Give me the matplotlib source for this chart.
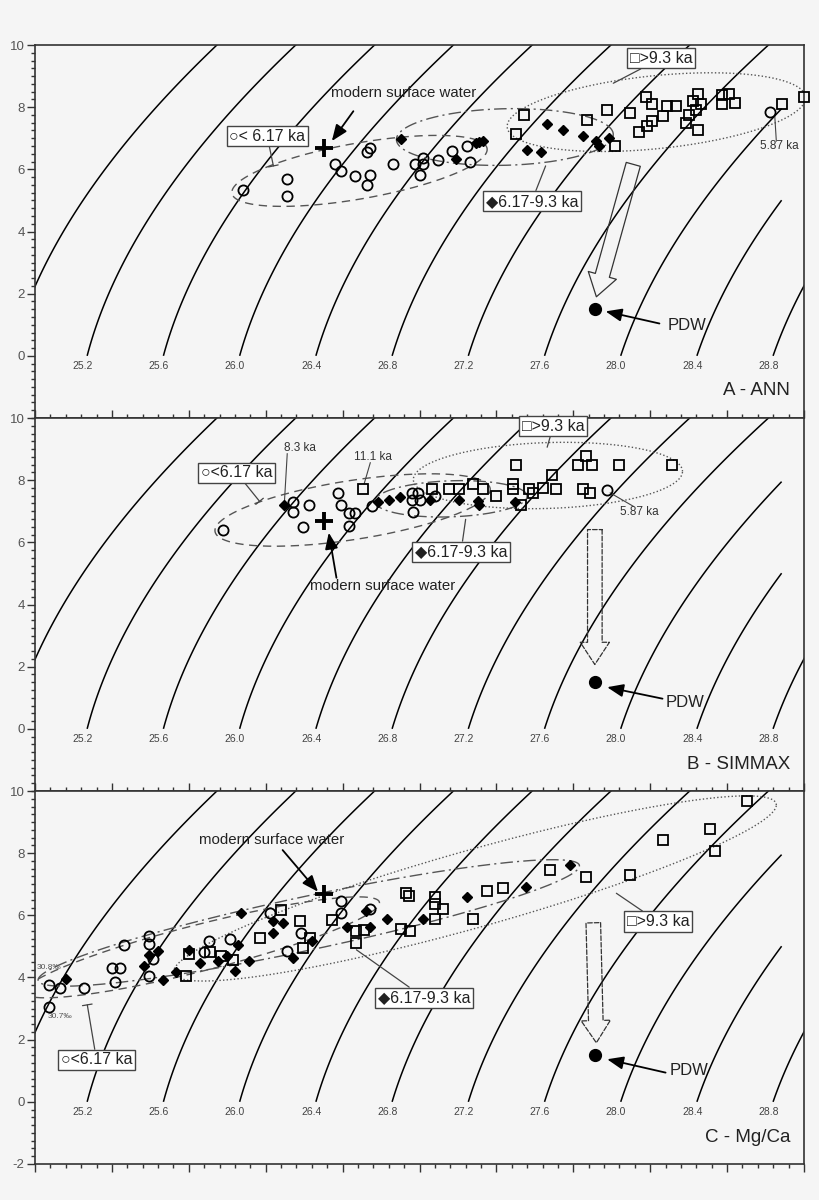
import numpy as np
import matplotlib
matplotlib.use("Agg")
import matplotlib.pyplot as plt
from matplotlib.ticker import FixedLocator, MultipleLocator

plt.rcParams['font.family'] = ['Liberation Sans', 'DejaVu Sans']
plt.rcParams['axes.unicode_minus'] = False

# ---------------- axes ranges ----------------
S_MIN, S_MAX = 31.06, 36.06
T_MIN, T_MAX = -2.0, 10.0

density_levels = [24.8, 25.2, 25.6, 26.0, 26.4, 26.8, 27.2, 27.6, 28.0, 28.4, 28.8]
label_levels = [25.2, 25.6, 26.0, 26.4, 26.8, 27.2, 27.6, 28.0, 28.4, 28.8]

# common reference points (salinity, temperature)
modern_surface = (32.94, 6.70)
pdw = (34.70, 1.52)

# ---------------- Panel A - ANN ----------------
ann_young = [(32.41, 5.33), (32.70, 5.68), (32.70, 5.15), (33.01, 6.18), (33.05, 5.95),
             (33.14, 5.78), (33.24, 5.83), (33.22, 5.49), (33.24, 6.68), (33.22, 6.55),
             (33.39, 6.18), (33.53, 6.18), (33.58, 6.36), (33.58, 6.16), (33.56, 5.83),
             (33.68, 6.30), (33.77, 6.59), (33.87, 6.74), (33.89, 6.22), (35.84, 7.83)]
ann_mid = [(33.44, 6.98), (33.80, 6.34), (33.93, 6.85), (33.95, 6.87), (33.97, 6.91),
           (34.39, 7.47), (34.49, 7.26), (34.62, 7.07), (34.26, 6.63), (34.35, 6.57),
           (34.71, 6.91), (34.73, 6.75), (34.79, 7.02)]
ann_old = [(34.24, 7.76), (34.19, 7.14), (34.65, 7.59), (34.78, 7.92), (34.93, 7.81),
           (35.03, 8.33), (35.07, 8.10), (35.17, 8.03), (35.23, 8.03), (35.14, 7.71),
           (35.07, 7.54), (35.04, 7.41), (34.99, 7.19), (34.83, 6.75), (35.37, 8.43),
           (35.34, 8.21), (35.39, 8.10), (35.36, 7.92), (35.31, 7.76), (35.29, 7.49),
           (35.37, 7.26), (35.53, 8.40), (35.57, 8.42), (35.53, 8.11), (35.61, 8.15),
           (35.92, 8.10), (36.06, 8.33)]
# ellipses: left point, right point, half vertical thickness at centre
ann_ellipses = [((32.34, 5.26), (34.00, 6.64), 0.91, 'dashed'),
                ((33.41, 6.96), (34.82, 7.12), 0.91, 'dashdot'),
                ((34.13, 7.38), (36.07, 8.30), 1.18, 'dotted')]

# ---------------- Panel B - SIMMAX ----------------
sim_young = [(32.28, 6.39), (32.74, 7.29), (32.74, 6.97), (32.80, 6.49), (32.84, 7.19),
             (33.03, 7.59), (33.05, 7.19), (33.10, 6.95), (33.14, 6.95), (33.10, 6.54),
             (33.25, 7.16), (33.51, 7.59), (33.55, 7.59), (33.51, 7.36), (33.56, 7.36),
             (33.52, 6.97), (33.66, 7.49), (34.78, 7.68)]
sim_mid = [(32.68, 7.19), (33.29, 7.29), (33.36, 7.36), (33.43, 7.47), (33.63, 7.36),
           (33.82, 7.36), (33.94, 7.32), (33.95, 7.19), (34.18, 7.31)]
sim_old = [(33.19, 7.70), (33.64, 7.70), (33.75, 7.70), (33.82, 7.70), (33.91, 7.89),
           (33.97, 7.70), (34.06, 7.49), (34.17, 7.89), (34.17, 7.70), (34.19, 8.49),
           (34.22, 7.20), (34.27, 7.70), (34.30, 7.58), (34.36, 7.74), (34.42, 8.16),
           (34.45, 7.70), (34.62, 7.70), (34.67, 7.59), (34.64, 8.78), (34.59, 8.50),
           (34.68, 8.50), (34.86, 8.49), (35.20, 8.49)]
sim_ellipses = [((32.23, 6.38), (34.02, 7.70), 0.96, 'dashed'),
                ((33.27, 7.32), (34.26, 7.48), 0.58, 'dashdot'),
                ((33.52, 8.02), (35.27, 8.28), 1.06, 'dotted')]

# ---------------- Panel C - Mg/Ca ----------------
mgca_young = [(31.15, 3.75), (31.22, 3.67), (31.15, 3.05), (31.38, 3.67), (31.56, 4.32),
              (31.61, 4.32), (31.58, 3.85), (31.64, 5.03), (31.80, 5.35), (31.80, 5.09),
              (31.83, 4.58), (31.80, 4.06), (32.19, 5.17), (32.16, 4.83), (32.33, 5.23),
              (32.59, 6.07), (32.79, 5.43), (32.70, 4.85), (33.05, 6.47), (33.05, 6.07),
              (33.24, 6.20)]
mgca_mid = [(31.26, 3.94), (31.77, 4.38), (31.80, 4.73), (31.86, 4.85), (31.89, 3.92),
            (31.98, 4.18), (32.06, 4.90), (32.13, 4.47), (32.25, 4.52), (32.31, 4.70),
            (32.36, 4.20), (32.38, 5.05), (32.45, 4.52), (32.40, 6.08), (32.61, 5.82),
            (32.67, 5.76), (32.61, 5.43), (32.74, 4.64), (32.86, 5.17), (33.09, 5.64),
            (33.24, 5.64), (33.21, 6.13), (33.35, 5.89), (33.58, 5.88), (33.87, 6.60),
            (34.25, 6.92), (34.54, 7.62)]
mgca_old = [(32.04, 4.05), (32.06, 4.75), (32.20, 4.81), (32.27, 4.69), (32.35, 4.57),
            (32.52, 5.28), (32.66, 6.17), (32.78, 5.83), (32.80, 4.94), (32.85, 5.28),
            (32.99, 5.85), (33.15, 5.10), (33.15, 5.51), (33.20, 5.53), (33.47, 6.73),
            (33.49, 6.62), (33.44, 5.56), (33.50, 5.48), (33.66, 6.60), (33.66, 6.37),
            (33.71, 6.21), (33.66, 5.87), (33.91, 5.87), (34.00, 6.78), (34.10, 6.87),
            (34.41, 7.46), (34.64, 7.23), (34.93, 7.30), (35.14, 8.42), (35.45, 8.77),
            (35.48, 8.08), (35.69, 9.68)]
mgca_ellipses = [((30.99, 3.54), (33.30, 6.40), 0.77, 'dashed'),
                 ((31.08, 3.92), (34.60, 7.59), 0.88, 'dashdot'),
                 ((31.96, 4.18), (35.88, 9.55), 1.29, 'dotted')]

# annotation anchors per panel: (label text, label position, leader end)
ann_labels = {'young': ('\u25cb< 6.17 ka', (32.57, 7.06), (32.61, 6.11)),
              'mid': ('\u25c66.17-9.3 ka', (34.29, 4.98), (34.38, 6.11)),
              'old': ('\u25a1>9.3 ka', (35.13, 9.57), (34.82, 8.77))}
sim_labels = {'young': ('\u25cb<6.17 ka', (32.37, 8.24), (32.52, 7.32)),
              'mid': ('\u25c66.17-9.3 ka', (33.83, 5.70), (33.86, 6.74)),
              'old': ('\u25a1>9.3 ka', (34.43, 9.74), (34.39, 9.06))}
mgca_labels = {'young': ('\u25cb<6.17 ka', (31.46, 1.35), (31.40, 3.12)),
               'mid': ('\u25c66.17-9.3 ka', (33.59, 3.35), (33.15, 4.89)),
               'old': ('\u25a1>9.3 ka', (35.11, 5.80), (34.84, 6.71))}

# ---------------- density (EOS-80, p = 0) ----------------
def sigma0(S, T):
    rw = (999.842594 + 6.793952e-2 * T - 9.095290e-3 * T**2 + 1.001685e-4 * T**3
          - 1.120083e-6 * T**4 + 6.536332e-9 * T**5)
    A = 8.24493e-1 - 4.0899e-3 * T + 7.6438e-5 * T**2 - 8.2467e-7 * T**3 + 5.3875e-9 * T**4
    B = -5.72466e-3 + 1.0227e-4 * T - 1.6546e-6 * T**2
    C = 4.8314e-4
    return rw + A * S + B * S**1.5 + C * S**2 - 1000.0


Sg = np.linspace(30.8, 36.3, 700)
Tg = np.linspace(0.0, 10.6, 500)
SS, TT = np.meshgrid(Sg, Tg)
SIG = sigma0(SS, TT)
SIGm = np.ma.masked_where((SS > 35.92) & (SIG < 28.6), SIG)
sig_T0 = sigma0(Sg, 0.0)

BG = '#f5f5f5'
fig = plt.figure(figsize=(8.2, 12), dpi=100, facecolor=BG)

left, width = 35 / 820, 769 / 820
ph = 373 / 1200
bottoms = [1 - 418 / 1200, 1 - 791 / 1200, 1 - 1164 / 1200]

styles = {'dashed': dict(ls=(0, (6, 4)), color='#555555', lw=1.0),
          'dashdot': dict(ls=(0, (9, 3, 1.5, 3)), color='#555555', lw=1.0),
          'dotted': dict(ls=(0, (1, 1.6)), color='#555555', lw=1.0)}


def draw_ellipse(ax, Lp, Rp, h, kind):
    t = np.linspace(0, 2 * np.pi, 300)
    cx, cy = (Lp[0] + Rp[0]) / 2, (Lp[1] + Rp[1]) / 2
    ux, uy = Rp[0] - cx, Rp[1] - cy
    xs = cx + ux * np.cos(t)
    ys = cy + uy * np.cos(t) + h * np.sin(t)
    ax.plot(xs, ys, zorder=2, **styles[kind])


def boxed(ax, lab, tick_end=False):
    text, pos, end = lab
    style = '-[, widthB=0.35, lengthB=0.0' if tick_end else '-'
    ax.annotate(text, xy=end, xytext=pos, ha='center', va='center', fontsize=11.5,
                color='#222222', zorder=6,
                bbox=dict(boxstyle='square,pad=0.16', fc='white', ec='#444444', lw=1.0),
                arrowprops=dict(arrowstyle=style, color='#444444', lw=0.9,
                                shrinkA=0, shrinkB=0, mutation_scale=10))


def base_axes(ax, is_bottom):
    ax.set_facecolor(BG)
    ax.set_xlim(S_MIN, S_MAX)
    ax.set_ylim(T_MIN, T_MAX)
    ax.contour(SS, TT, SIGm, levels=density_levels, colors='black', linewidths=1.1, zorder=1)
    for lv in label_levels:
        s0 = np.interp(lv, sig_T0, Sg)
        ax.text(s0 - 0.03, -0.32, f'{lv:.1f}', ha='center', va='center', fontsize=7.5,
                color='#444444')
    ax.xaxis.set_major_locator(FixedLocator(np.arange(S_MIN, S_MAX + 1e-6, 0.5)))
    ax.xaxis.set_minor_locator(FixedLocator(np.arange(S_MIN, S_MAX + 1e-6, 0.1)))
    ax.set_xticklabels([])
    ax.tick_params(axis='x', which='both', direction='out' if is_bottom else 'in',
                   top=False, bottom=True, color='#333333', width=1.0)
    ax.tick_params(axis='x', which='major', length=6)
    ax.tick_params(axis='x', which='minor', length=3.2)
    ax.set_yticks(np.arange(-2 if is_bottom else 0, 10.1, 2))
    ax.yaxis.set_minor_locator(MultipleLocator(0.25))
    ax.tick_params(axis='y', which='both', direction='out', right=False, color='#333333',
                   width=1.0, labelsize=9.5, labelcolor='#555555', pad=2)
    ax.tick_params(axis='y', which='major', length=5.5)
    ax.tick_params(axis='y', which='minor', length=2.8)
    for sp in ax.spines.values():
        sp.set_linewidth(1.2)
        sp.set_color('#333333')


def scatter_groups(ax, young, mid, old):
    ys, yt = zip(*young)
    ms_, mt = zip(*mid)
    os_, ot = zip(*old)
    ax.plot(os_, ot, 's', ms=7.0, mfc='none', mec='black', mew=1.3, ls='none', zorder=4,
            clip_on=False)
    ax.plot(ys, yt, 'o', ms=7.3, mfc='none', mec='black', mew=1.3, ls='none', zorder=4)
    ax.plot(ms_, mt, 'D', ms=5.6, mfc='black', mec='black', ls='none', zorder=5)
    ax.plot(*modern_surface, '+', ms=13, mew=2.8, color='black', zorder=5)
    ax.plot(*pdw, 'o', ms=8.5, color='black', zorder=5)


def arrow(ax, start, end, **kw):
    ax.annotate('', xy=end, xytext=start,
                arrowprops=dict(arrowstyle='-|>,head_length=0.7,head_width=0.28', color='black',
                                lw=1.3, shrinkA=0, shrinkB=0, mutation_scale=14), **kw)


def hollow(ax, start, end, dashed):
    ax.annotate('', xy=end, xytext=start,
                arrowprops=dict(arrowstyle='simple,head_length=1.6,head_width=2.1,tail_width=1.05',
                                fc='none', ec='#333333', lw=0.9, shrinkA=0, shrinkB=0,
                                mutation_scale=10, ls='--' if dashed else '-'))


# ---------------- Panel A ----------------
axA = fig.add_axes([left, bottoms[0], width, ph])
base_axes(axA, False)
for e in ann_ellipses:
    draw_ellipse(axA, *e)
scatter_groups(axA, ann_young, ann_mid, ann_old)
boxed(axA, ann_labels['young'], True)
boxed(axA, ann_labels['mid'])
boxed(axA, ann_labels['old'])
axA.text(33.46, 8.45, 'modern surface water', ha='center', va='center', fontsize=10.8, color='#222222')
arrow(axA, (33.13, 7.87), (32.99, 6.91))
axA.text(35.90, 6.75, '5.87 ka', ha='center', va='center', fontsize=8.5, color='#333333')
axA.plot([35.88, 35.87], [6.91, 7.71], color='#444444', lw=0.8)
axA.text(35.30, 0.99, 'PDW', ha='center', va='center', fontsize=12, color='#222222')
arrow(axA, (35.12, 1.04), (34.77, 1.43))
hollow(axA, (34.95, 6.16), (34.71, 1.90), False)
axA.text(0.982, 0.075, 'A - ANN', transform=axA.transAxes, ha='right', va='center',
         fontsize=13.5, color='#222222')

# ---------------- Panel B ----------------
axB = fig.add_axes([left, bottoms[1], width, ph])
base_axes(axB, False)
for e in sim_ellipses:
    draw_ellipse(axB, *e)
scatter_groups(axB, sim_young, sim_mid, sim_old)
boxed(axB, sim_labels['young'], True)
boxed(axB, sim_labels['mid'])
boxed(axB, sim_labels['old'])
axB.text(33.32, 4.58, 'modern surface water', ha='center', va='center', fontsize=10.8, color='#222222')
arrow(axB, (33.02, 4.86), (32.97, 6.31))
axB.text(32.78, 9.04, '8.3 ka', ha='center', va='center', fontsize=8.5, color='#333333')
axB.plot([32.70, 32.68], [8.85, 7.15], color='#444444', lw=0.8)
axB.text(33.26, 8.74, '11.1 ka', ha='center', va='center', fontsize=8.5, color='#333333')
axB.plot([33.24, 33.20], [8.56, 7.88], color='#444444', lw=0.8)
axB.text(34.99, 6.98, '5.87 ka', ha='center', va='center', fontsize=8.5, color='#333333')
axB.plot([34.95, 34.80], [7.16, 7.59], color='#444444', lw=0.8)
axB.text(35.285, 0.86, 'PDW', ha='center', va='center', fontsize=12, color='#222222')
arrow(axB, (35.14, 0.97), (34.78, 1.34))
hollow(axB, (34.70, 6.41), (34.70, 2.07), True)
axB.text(0.982, 0.072, 'B - SIMMAX', transform=axB.transAxes, ha='right', va='center',
         fontsize=13.5, color='#222222')

# ---------------- Panel C ----------------
axC = fig.add_axes([left, bottoms[2], width, ph])
base_axes(axC, True)
for e in mgca_ellipses:
    draw_ellipse(axC, *e)
scatter_groups(axC, mgca_young, mgca_mid, mgca_old)
boxed(axC, mgca_labels['young'], True)
boxed(axC, mgca_labels['mid'])
boxed(axC, mgca_labels['old'])
axC.text(32.60, 8.42, 'modern surface water', ha='center', va='center', fontsize=10.8, color='#222222')
arrow(axC, (32.67, 8.10), (32.90, 6.76))
axC.text(31.15, 4.32, '30.8\u2030', ha='center', va='center', fontsize=6, color='#555555')
axC.text(31.22, 2.73, '30.7\u2030', ha='center', va='center', fontsize=6, color='#555555')
axC.text(35.31, 1.01, 'PDW', ha='center', va='center', fontsize=12, color='#222222')
arrow(axC, (35.16, 0.94), (34.78, 1.37))
hollow(axC, (34.69, 5.76), (34.71, 1.90), True)
axC.text(0.982, 0.07, 'C - Mg/Ca', transform=axC.transAxes, ha='right', va='center',
         fontsize=13.5, color='#222222')

fig.savefig('out.png', dpi=100, facecolor=BG)
